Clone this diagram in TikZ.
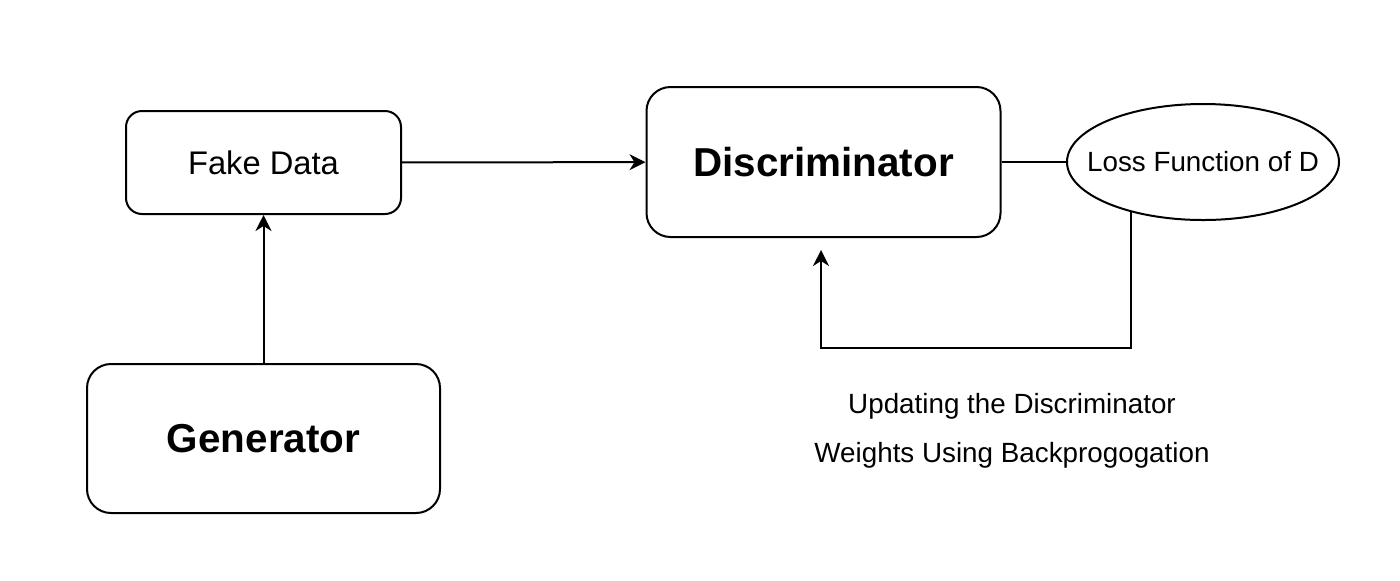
\documentclass[tikz,border=0pt]{standalone}
\usepackage{fontspec}
\setmainfont{Liberation Sans}
\usetikzlibrary{arrows.meta,shapes.geometric}
\begin{document}
\begin{tikzpicture}[
x=0.5pt, y=-0.5pt,
line width=1pt,
box/.style={rectangle, draw, rounded corners=12pt, inner sep=0pt},
big/.style={box, minimum width=177pt, minimum height=75pt, font=\fontsize{20.2}{24}\selectfont\bfseries},
loss/.style={ellipse, draw, inner sep=0pt, minimum width=136pt, minimum height=58pt, font=\fontsize{13.9}{16}\selectfont},
arrow/.style={-{Stealth[length=8pt,width=8pt,inset=2.5pt]}}
]
\useasboundingbox (0,0) rectangle (1400,580);
\node[box, rounded corners=8pt, minimum width=137.5pt, minimum height=51.5pt,
  font=\fontsize{16.35}{20}\selectfont] (fake) at (263.5,162.5) {Fake Data};
\node[big, minimum width=176.5pt, minimum height=74.5pt] (gen) at (263.5,438.5) {Generator};
\node[big] (disc) at (823.5,162) {Discriminator};
\node[loss] (lossD) at (1203,162) {\makebox[0pt][c]{Loss Function of D}};
\node[align=center, font=\fontsize{13.9}{24.5}\selectfont] (update) at (1012,431)
  {Updating the Discriminator\\Weights Using Backprogogation};
\coordinate (tip) at (821,250);
\coordinate (corner) at (821,348);
% connectors
\draw[arrow] (gen) -- (fake);
\draw[arrow] (fake) -- (disc);
\draw (disc) -- (lossD);
\draw[arrow] (lossD.-145) |- (corner) -- (tip);
\end{tikzpicture}
\end{document}
